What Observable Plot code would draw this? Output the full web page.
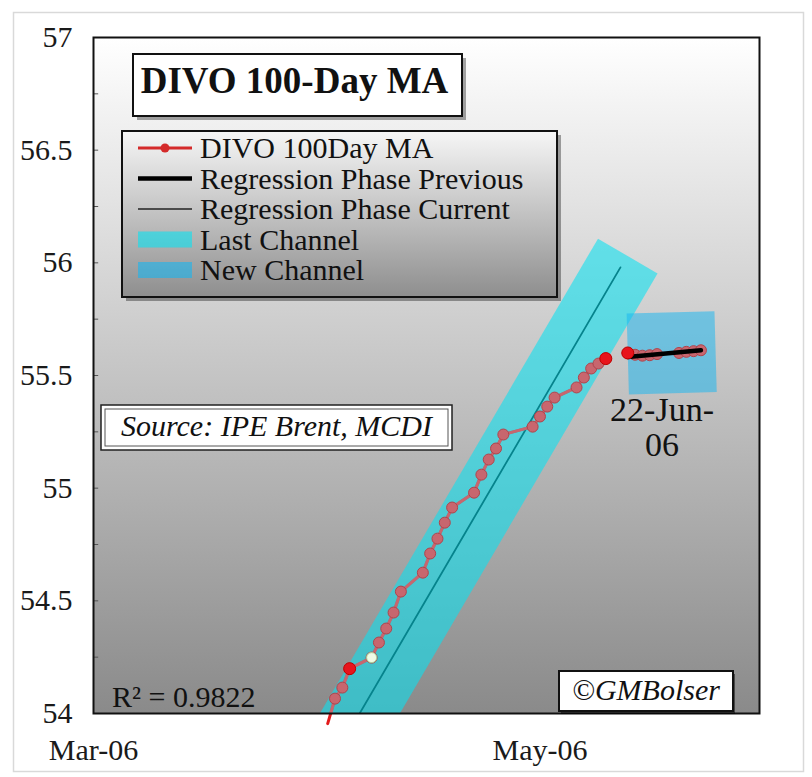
<!DOCTYPE html>
<html><head><meta charset="utf-8">
<script src="https://cdn.jsdelivr.net/npm/d3@7"></script>
<script src="https://cdn.jsdelivr.net/npm/@observablehq/plot@0.6"></script>
<style>body{margin:0;background:#fff;overflow:hidden}</style>
</head><body><div id="chart"></div>
<script>
// ---- data ----
const maDates = ["2006-04-04","2006-04-05","2006-04-06","2006-04-07","2006-04-10","2006-04-11","2006-04-12","2006-04-13","2006-04-14",
  "2006-04-17","2006-04-18","2006-04-19","2006-04-20","2006-04-21","2006-04-24","2006-04-25","2006-04-26","2006-04-27","2006-04-28",
  "2006-05-02","2006-05-03","2006-05-04","2006-05-05","2006-05-08","2006-05-09","2006-05-10","2006-05-11","2006-05-12"];
const maValues = [53.955,54.066,54.115,54.199,54.248,54.315,54.377,54.448,54.541,
  54.625,54.710,54.776,54.847,54.914,54.980,55.060,55.127,55.176,55.238,
  55.273,55.318,55.362,55.402,55.447,55.491,55.531,55.553,55.575];
const newDates = ["2006-05-15","2006-05-16","2006-05-17","2006-05-18","2006-05-19","2006-05-22","2006-05-23","2006-05-24","2006-05-25"];
const newValues = [55.600,55.592,55.588,55.590,55.595,55.600,55.605,55.608,55.612];
const regCurrentDates = ["2006-04-08","2006-05-14"];
const regCurrentValues = [53.98,55.98];
const regPreviousDates = ["2006-05-15","2006-05-25"];
const regPreviousValues = [55.582,55.612];
const lastChannelDates = ["2006-04-01","2006-05-15"];
const lastChannelValues = [53.59,56.03];
const newChannelDates = ["2006-05-15","2006-05-27"];
const newChannelValues = [55.595,55.606];
const redHighlightDates = ["2006-04-07","2006-05-12","2006-05-15"];
const greenHighlightDates = ["2006-04-10"];
const rSquared = 0.9822;
const xDomain = ["2006-03-03","2006-06-02"];
const xTicks = ["2006-03-03","2006-05-03"];
const yDomain = [54,57];
const yTicks = [54,54.5,55,55.5,56,56.5,57];
const yMinorTicks = [54.25,54.5,54.75,55,55.25,55.5,55.75,56,56.25,56.5,56.75];
const legendLabels = ["DIVO 100Day MA","Regression Phase Previous","Regression Phase Current","Last Channel","New Channel"];
const titleText = "DIVO 100-Day MA";
const sourceText = "Source: IPE Brent, MCDI";
const copyrightText = "©GMBolser";
const dateLabel = ["22-Jun-\n06"];
const dateLabelDate = ["2006-05-19"];
const dateLabelValue = [55.407];

// ---- build ----
const parse = d3.utcParse("%Y-%m-%d");
const serif = "'Liberation Serif','Times New Roman',serif";
const ma = maDates.map((d,i)=>({date: parse(d), value: maValues[i], phase: "current"}))
  .concat(newDates.map((d,i)=>({date: parse(d), value: newValues[i], phase: "new"})));
const pairs = (ds, vs) => ds.map((d,i)=>({date: parse(d), value: vs[i]}));
const findPts = ds => ds.map(s => ma.find(p => +p.date === +parse(s)));
const CYAN = "#08e2f2", SKY = "#18b6f0", ROSY = "#c8666e";
const x0 = parse(xDomain[0]);

function gradients() {
  const defs = d3.create("svg:defs");
  const g1 = defs.append("linearGradient").attr("id","plotGrad").attr("x1",0).attr("y1",0).attr("x2",0).attr("y2",1);
  g1.append("stop").attr("offset","0%").attr("stop-color","#ffffff");
  g1.append("stop").attr("offset","100%").attr("stop-color","#8a8a8a");
  const g2 = defs.append("linearGradient").attr("id","legendGrad").attr("x1",0).attr("y1",0).attr("x2",0).attr("y2",1);
  g2.append("stop").attr("offset","0%").attr("stop-color","#f6f6f6");
  g2.append("stop").attr("offset","100%").attr("stop-color","#8e8e8e");
  return defs.node();
}

function annotations(index, scales, values, dim) {
  const L = dim.marginLeft, T = dim.marginTop, R = dim.width - dim.marginRight, B = dim.height - dim.marginBottom;
  const g = d3.create("svg:g").attr("font-family", serif).attr("fill", "#111").attr("text-anchor", "start");
  // outer light border
  g.append("rect").attr("x",13.5).attr("y",12.5).attr("width",dim.width-22).attr("height",dim.height-18)
    .attr("fill","none").attr("stroke","#d9d9d9").attr("stroke-width",1.5);
  // title box
  const tb = {x: L+40, y: T+17, w: 329, h: 62};
  g.append("rect").attr("x",tb.x+4).attr("y",tb.y+4).attr("width",tb.w).attr("height",tb.h).attr("fill","#000").attr("opacity",0.35);
  g.append("rect").attr("x",tb.x).attr("y",tb.y).attr("width",tb.w).attr("height",tb.h).attr("fill","#fff").attr("stroke","#111").attr("stroke-width",2);
  g.append("text").attr("x",tb.x+tb.w/2-3).attr("y",tb.y+39).attr("text-anchor","middle")
    .attr("font-size",37).attr("font-weight","bold").text(titleText);
  // legend
  const lg = {x: L+29, y: T+94, w: 435, h: 166};
  g.append("rect").attr("x",lg.x+4).attr("y",lg.y+4).attr("width",lg.w).attr("height",lg.h).attr("fill","#000").attr("opacity",0.35);
  g.append("rect").attr("x",lg.x).attr("y",lg.y).attr("width",lg.w).attr("height",lg.h).attr("fill","url(#legendGrad)").attr("stroke","#111").attr("stroke-width",2);
  const sx1 = lg.x+16, sx2 = lg.x+70, tx = lg.x+78;
  legendLabels.forEach((lab,i)=>{
    const base = lg.y + 27 + i*30.5, cy = base - 10;
    if (i===0) {
      g.append("line").attr("x1",sx1).attr("x2",sx2).attr("y1",cy).attr("y2",cy).attr("stroke","#d42a2a").attr("stroke-width",3);
      g.append("circle").attr("cx",(sx1+sx2)/2).attr("cy",cy).attr("r",4.5).attr("fill","#d42a2a");
    } else if (i===1) {
      g.append("line").attr("x1",sx1).attr("x2",sx2).attr("y1",cy).attr("y2",cy).attr("stroke","#000").attr("stroke-width",4.5);
    } else if (i===2) {
      g.append("line").attr("x1",sx1).attr("x2",sx2).attr("y1",cy).attr("y2",cy).attr("stroke","#222").attr("stroke-width",1.5);
    } else {
      g.append("rect").attr("x",sx1).attr("y",cy-8).attr("width",sx2-sx1).attr("height",16)
        .attr("fill", i===3 ? CYAN : SKY).attr("opacity",0.6);
    }
    g.append("text").attr("x",tx).attr("y",base).attr("font-size",30).attr("text-anchor","start").text(lab);
  });
  // source box
  const sb = {x: L+8, y: T+368, w: 351, h: 45};
  g.append("rect").attr("x",sb.x).attr("y",sb.y).attr("width",sb.w).attr("height",sb.h).attr("fill","#fff").attr("stroke","#222").attr("stroke-width",1.5);
  g.append("rect").attr("x",sb.x+4).attr("y",sb.y+4).attr("width",sb.w-8).attr("height",sb.h-8).attr("fill","none").attr("stroke","#555").attr("stroke-width",1);
  g.append("text").attr("x",sb.x+sb.w/2).attr("y",sb.y+31).attr("text-anchor","middle")
    .attr("font-size",30).attr("font-style","italic").text(sourceText);
  // copyright box
  const cb = {x: R-200, y: B-42, w: 174, h: 40};
  g.append("rect").attr("x",cb.x+2).attr("y",cb.y+3).attr("width",cb.w).attr("height",cb.h).attr("fill","#000").attr("opacity",0.5);
  g.append("rect").attr("x",cb.x).attr("y",cb.y).attr("width",cb.w).attr("height",cb.h).attr("fill","#fff").attr("stroke","#111").attr("stroke-width",2);
  g.append("text").attr("x",cb.x+cb.w/2).attr("y",cb.y+29).attr("text-anchor","middle")
    .attr("font-size",30).attr("font-style","italic").text(copyrightText);
  // R squared
  g.append("text").attr("x",L+19).attr("y",B-6).attr("font-size",30).attr("text-anchor","start").text("R² = " + rSquared);
  return g.node();
}

const chart = Plot.plot({
  width: 812, height: 777,
  marginLeft: 93, marginRight: 53, marginTop: 37, marginBottom: 64,
  style: {fontFamily: serif, fontSize: "30px", color: "#1a1a1a", background: "white", overflow: "visible"},
  x: {type: "utc", domain: xDomain.map(parse), ticks: xTicks.map(parse), tickFormat: d3.utcFormat("%b-%y"), tickSize: 0, tickPadding: 25, label: null},
  y: {domain: yDomain, ticks: yTicks, tickFormat: d => String(d), tickSize: 0, tickPadding: 21, label: null},
  marks: [
    gradients,
    Plot.frame({fill: "url(#plotGrad)"}),
    Plot.ruleY(yMinorTicks, {x1: x0, x2: d3.utcHour.offset(x0, 17), stroke: "#555", strokeWidth: 1}),
    Plot.line(pairs(regCurrentDates, regCurrentValues), {x: "date", y: "value", stroke: "#000", strokeWidth: 1.8, clip: true}),
    Plot.line(ma.filter(d => d.phase === "current"), {x: "date", y: "value", stroke: "#e31b1b", strokeWidth: 3}),
    Plot.line(pairs(lastChannelDates, lastChannelValues), {x: "date", y: "value", stroke: CYAN, strokeWidth: 69, strokeOpacity: 0.58, strokeLinecap: "butt", clip: true}),
    Plot.line(pairs(newChannelDates, newChannelValues), {x: "date", y: "value", stroke: SKY, strokeWidth: 81, strokeOpacity: 0.52, strokeLinecap: "butt", clip: true}),
    Plot.line(ma, {x: "date", y: "value", z: "phase", stroke: ROSY, strokeWidth: 3, clip: true}),
    Plot.dot(ma.filter(d => d.value >= yDomain[0]), {x: "date", y: "value", r: 5.5, fill: ROSY, stroke: "#b0444c", strokeWidth: 1}),
    Plot.line(pairs(regPreviousDates, regPreviousValues), {x: "date", y: "value", stroke: "#000", strokeWidth: 4.5}),
    Plot.dot(findPts(redHighlightDates), {x: "date", y: "value", r: 6, fill: "#e8141c", stroke: "#c00000", strokeWidth: 1}),
    Plot.dot(findPts(greenHighlightDates), {x: "date", y: "value", r: 5, fill: "#effbe6", stroke: "#a8d49a", strokeWidth: 1}),
    Plot.frame({stroke: "#111", strokeWidth: 2}),
    annotations,
    Plot.text(dateLabel, {x: dateLabelDate.map(parse), y: dateLabelValue, text: d => d, dx: 5, lineAnchor: "top", lineHeight: 1.03, fontSize: 34, fill: "#111", textAnchor: "middle"})
  ]
});
document.getElementById("chart").appendChild(chart);
</script>
</body></html>
